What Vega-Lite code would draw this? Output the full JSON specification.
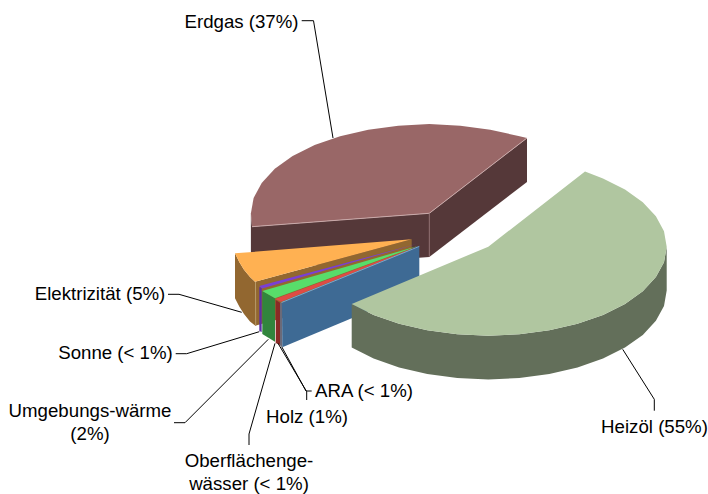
{"$schema":"https://vega.github.io/schema/vega-lite/v6.json","width":708,"height":494,"padding":0,"autosize":"none","background":"white","config":{"view":{"stroke":null}},
"resolve":{"scale":{"color":"independent"}},
"datasets":{
"faces":[
{"p":"Erdgas Seite","i":0,"x":250.9,"y":213.3},{"p":"Erdgas Seite","i":1,"x":252,"y":226.7},{"p":"Erdgas Seite","i":2,"x":252,"y":270},{"p":"Erdgas Seite","i":3,"x":250.9,"y":257},
{"p":"Erdgas Schnitt A","i":0,"x":252,"y":226.7},{"p":"Erdgas Schnitt A","i":1,"x":429.3,"y":213.3},{"p":"Erdgas Schnitt A","i":2,"x":429.3,"y":257},{"p":"Erdgas Schnitt A","i":3,"x":252,"y":270},
{"p":"Erdgas Schnitt B","i":0,"x":429.3,"y":213.3},{"p":"Erdgas Schnitt B","i":1,"x":527,"y":138},{"p":"Erdgas Schnitt B","i":2,"x":527,"y":182},{"p":"Erdgas Schnitt B","i":3,"x":429.3,"y":257},
{"p":"Erdgas","i":0,"x":252,"y":226.7},{"p":"Erdgas","i":1,"x":429.3,"y":213.3},{"p":"Erdgas","i":2,"x":527,"y":138},{"p":"Erdgas","i":3,"x":518.5,"y":136},{"p":"Erdgas","i":4,"x":490.3,"y":129.7},{"p":"Erdgas","i":5,"x":460.3,"y":125.7},{"p":"Erdgas","i":6,"x":429.3,"y":124},{"p":"Erdgas","i":7,"x":398.3,"y":125.7},{"p":"Erdgas","i":8,"x":368.3,"y":129.7},{"p":"Erdgas","i":9,"x":340.1,"y":136.2},{"p":"Erdgas","i":10,"x":314.6,"y":145.1},{"p":"Erdgas","i":11,"x":292.6,"y":156.1},{"p":"Erdgas","i":12,"x":274.8,"y":168.8},{"p":"Erdgas","i":13,"x":261.7,"y":182.9},{"p":"Erdgas","i":14,"x":253.6,"y":197.9},{"p":"Erdgas","i":15,"x":250.9,"y":213.3},
{"p":"Elektrizität Seite","i":0,"x":235,"y":253.3},{"p":"Elektrizität Seite","i":1,"x":239.4,"y":262.3},{"p":"Elektrizität Seite","i":2,"x":244,"y":269.7},{"p":"Elektrizität Seite","i":3,"x":250,"y":276.9},{"p":"Elektrizität Seite","i":4,"x":255,"y":281.7},{"p":"Elektrizität Seite","i":5,"x":255.7,"y":326},{"p":"Elektrizität Seite","i":6,"x":250,"y":321.4},{"p":"Elektrizität Seite","i":7,"x":244,"y":314},{"p":"Elektrizität Seite","i":8,"x":239.4,"y":306.8},{"p":"Elektrizität Seite","i":9,"x":235,"y":298.3},
{"p":"Elektrizität Schnitt","i":0,"x":255,"y":281.7},{"p":"Elektrizität Schnitt","i":1,"x":411.7,"y":239.3},{"p":"Elektrizität Schnitt","i":2,"x":411.7,"y":283},{"p":"Elektrizität Schnitt","i":3,"x":255,"y":325.7},
{"p":"Elektrizität","i":0,"x":235,"y":253.3},{"p":"Elektrizität","i":1,"x":411.7,"y":239.3},{"p":"Elektrizität","i":2,"x":255,"y":281.7},{"p":"Elektrizität","i":3,"x":250,"y":276.9},{"p":"Elektrizität","i":4,"x":244,"y":269.7},{"p":"Elektrizität","i":5,"x":239.4,"y":262.3},
{"p":"Sonne Seite","i":0,"x":259.3,"y":287},{"p":"Sonne Seite","i":1,"x":261.7,"y":288},{"p":"Sonne Seite","i":2,"x":261.7,"y":332},{"p":"Sonne Seite","i":3,"x":259.3,"y":331},
{"p":"Sonne","i":0,"x":259.3,"y":286},{"p":"Sonne","i":1,"x":416.7,"y":244},{"p":"Sonne","i":2,"x":262,"y":288.5},
{"p":"Umgebung Seite","i":0,"x":262.3,"y":291},{"p":"Umgebung Seite","i":1,"x":275,"y":298.3},{"p":"Umgebung Seite","i":2,"x":275,"y":341.7},{"p":"Umgebung Seite","i":3,"x":262.3,"y":334},
{"p":"Umgebung","i":0,"x":262.3,"y":291},{"p":"Umgebung","i":1,"x":418.7,"y":245.7},{"p":"Umgebung","i":2,"x":275,"y":298.3},
{"p":"Holz Seite","i":0,"x":275.7,"y":300},{"p":"Holz Seite","i":1,"x":280,"y":302.7},{"p":"Holz Seite","i":2,"x":280,"y":345},{"p":"Holz Seite","i":3,"x":275.7,"y":343},
{"p":"Holz","i":0,"x":275,"y":299},{"p":"Holz","i":1,"x":419.3,"y":246},{"p":"Holz","i":2,"x":281,"y":301.7},
{"p":"ARA Schnitt","i":0,"x":280,"y":302.7},{"p":"ARA Schnitt","i":1,"x":282,"y":303},{"p":"ARA Schnitt","i":2,"x":282.3,"y":347},{"p":"ARA Schnitt","i":3,"x":280,"y":345.5},
{"p":"Oberfläche Schnitt","i":0,"x":282,"y":302.7},{"p":"Oberfläche Schnitt","i":1,"x":419.3,"y":246.7},{"p":"Oberfläche Schnitt","i":2,"x":419.3,"y":290},{"p":"Oberfläche Schnitt","i":3,"x":282.3,"y":347.3},
{"p":"Heizöl Seite","i":0,"x":351.7,"y":303.9},{"p":"Heizöl Seite","i":1,"x":373.6,"y":314.9},{"p":"Heizöl Seite","i":2,"x":399.1,"y":323.8},{"p":"Heizöl Seite","i":3,"x":427.3,"y":330.3},{"p":"Heizöl Seite","i":4,"x":457.3,"y":334.3},{"p":"Heizöl Seite","i":5,"x":488.3,"y":335.7},{"p":"Heizöl Seite","i":6,"x":519.3,"y":334.3},{"p":"Heizöl Seite","i":7,"x":549.3,"y":330.3},{"p":"Heizöl Seite","i":8,"x":577.5,"y":323.8},{"p":"Heizöl Seite","i":9,"x":603,"y":314.9},{"p":"Heizöl Seite","i":10,"x":625,"y":303.9},{"p":"Heizöl Seite","i":11,"x":642.8,"y":291.2},{"p":"Heizöl Seite","i":12,"x":655.9,"y":277.1},{"p":"Heizöl Seite","i":13,"x":664,"y":262.2},{"p":"Heizöl Seite","i":14,"x":666.7,"y":246.7},{"p":"Heizöl Seite","i":15,"x":666.7,"y":290.4},{"p":"Heizöl Seite","i":16,"x":664,"y":305.9},{"p":"Heizöl Seite","i":17,"x":655.9,"y":320.8},{"p":"Heizöl Seite","i":18,"x":642.8,"y":334.9},{"p":"Heizöl Seite","i":19,"x":625,"y":347.6},{"p":"Heizöl Seite","i":20,"x":603,"y":358.6},{"p":"Heizöl Seite","i":21,"x":577.5,"y":367.5},{"p":"Heizöl Seite","i":22,"x":549.3,"y":374},{"p":"Heizöl Seite","i":23,"x":519.3,"y":378},{"p":"Heizöl Seite","i":24,"x":488.3,"y":379.4},{"p":"Heizöl Seite","i":25,"x":457.3,"y":378},{"p":"Heizöl Seite","i":26,"x":427.3,"y":374},{"p":"Heizöl Seite","i":27,"x":399.1,"y":367.5},{"p":"Heizöl Seite","i":28,"x":373.6,"y":358.6},{"p":"Heizöl Seite","i":29,"x":351.7,"y":347.6},
{"p":"Heizöl","i":0,"x":585,"y":171.5},{"p":"Heizöl","i":1,"x":488.3,"y":246.7},{"p":"Heizöl","i":2,"x":351.7,"y":303.9},{"p":"Heizöl","i":3,"x":373.6,"y":314.9},{"p":"Heizöl","i":4,"x":399.1,"y":323.8},{"p":"Heizöl","i":5,"x":427.3,"y":330.3},{"p":"Heizöl","i":6,"x":457.3,"y":334.3},{"p":"Heizöl","i":7,"x":488.3,"y":335.7},{"p":"Heizöl","i":8,"x":519.3,"y":334.3},{"p":"Heizöl","i":9,"x":549.3,"y":330.3},{"p":"Heizöl","i":10,"x":577.5,"y":323.8},{"p":"Heizöl","i":11,"x":603,"y":314.9},{"p":"Heizöl","i":12,"x":625,"y":303.9},{"p":"Heizöl","i":13,"x":642.8,"y":291.2},{"p":"Heizöl","i":14,"x":655.9,"y":277.1},{"p":"Heizöl","i":15,"x":664,"y":262.2},{"p":"Heizöl","i":16,"x":666.7,"y":246.7},{"p":"Heizöl","i":17,"x":664,"y":231.2},{"p":"Heizöl","i":18,"x":655.9,"y":216.3},{"p":"Heizöl","i":19,"x":642.8,"y":202.2},{"p":"Heizöl","i":20,"x":625,"y":189.5},{"p":"Heizöl","i":21,"x":603,"y":178.5}
],
"leaders":[
{"l":"Kante Erdgas","c":"Erdgas Kante","i":0,"x":252,"y":226.7},{"l":"Kante Erdgas","c":"Erdgas Kante","i":1,"x":429.3,"y":213.3},{"l":"Kante Erdgas","c":"Erdgas Kante","i":2,"x":527,"y":138},
{"l":"Innen Erdgas","c":"Erdgas innen","i":0,"x":429.3,"y":213.3},{"l":"Innen Erdgas","c":"Erdgas innen","i":1,"x":429.3,"y":257},
{"l":"Kante ARA","c":"ARA Kante","i":0,"x":281.5,"y":302.5},{"l":"Kante ARA","c":"ARA Kante","i":1,"x":419.3,"y":246.4},
{"l":"Kante Strom","c":"Strom innen","i":0,"x":255.5,"y":282},{"l":"Kante Strom","c":"Strom innen","i":1,"x":255.7,"y":326},
{"l":"Erdgas","c":"Leiter","i":0,"x":301.7,"y":20.7},{"l":"Erdgas","c":"Leiter","i":1,"x":313.5,"y":20.7},{"l":"Erdgas","c":"Leiter","i":2,"x":333,"y":138},
{"l":"Heizöl","c":"Leiter","i":0,"x":622.7,"y":349.3},{"l":"Heizöl","c":"Leiter","i":1,"x":654.3,"y":399.3},{"l":"Heizöl","c":"Leiter","i":2,"x":654.3,"y":410.7},
{"l":"Elektrizität","c":"Leiter","i":0,"x":168,"y":294.3},{"l":"Elektrizität","c":"Leiter","i":1,"x":179,"y":294.3},{"l":"Elektrizität","c":"Leiter","i":2,"x":241.7,"y":312.3},
{"l":"Sonne","c":"Leiter","i":0,"x":175.7,"y":353.7},{"l":"Sonne","c":"Leiter","i":1,"x":186.7,"y":353.7},{"l":"Sonne","c":"Leiter","i":2,"x":259.3,"y":331.7},
{"l":"Umgebung","c":"Leiter","i":0,"x":174,"y":422.7},{"l":"Umgebung","c":"Leiter","i":1,"x":185,"y":422.7},{"l":"Umgebung","c":"Leiter","i":2,"x":268.3,"y":339.3},
{"l":"Ober","c":"Leiter","i":0,"x":249,"y":445},{"l":"Ober","c":"Leiter","i":1,"x":249,"y":434},{"l":"Ober","c":"Leiter","i":2,"x":275,"y":343.3},
{"l":"Holz","c":"Leiter","i":0,"x":306.7,"y":400},{"l":"Holz","c":"Leiter","i":1,"x":306.7,"y":391.7},{"l":"Holz","c":"Leiter","i":2,"x":278,"y":343.3},
{"l":"ARA","c":"Leiter","i":0,"x":311.7,"y":391},{"l":"ARA","c":"Leiter","i":1,"x":306,"y":391},{"l":"ARA","c":"Leiter","i":2,"x":281.7,"y":346.7}
],
"labels":[
{"t":"Erdgas (37%)","x":241.5,"y":22},{"t":"Heizöl (55%)","x":654.5,"y":427},{"t":"Elektrizität (5%)","x":100,"y":294},{"t":"Sonne (< 1%)","x":115.5,"y":353},{"t":"Umgebungs-wärme","x":90,"y":411},{"t":"(2%)","x":90,"y":434},{"t":"Holz (1%)","x":307,"y":417},{"t":"ARA (< 1%)","x":364,"y":391},{"t":"Oberflächenge-","x":249,"y":461},{"t":"wässer (< 1%)","x":249,"y":484}
]},
"layer":[
{"data":{"name":"faces"},"mark":{"type":"line","filled":true,"strokeWidth":0.5},
"encoding":{"x":{"field":"x","type":"quantitative","scale":{"domain":[0,708]},"axis":null},"y":{"field":"y","type":"quantitative","scale":{"domain":[494,0]},"axis":null},"order":{"field":"i"},
"color":{"field":"p","type":"nominal","legend":null,"scale":{
"domain":["Erdgas Seite","Erdgas Schnitt A","Erdgas Schnitt B","Erdgas","Elektrizität Seite","Elektrizität Schnitt","Elektrizität","Sonne Seite","Sonne","Umgebung Seite","Umgebung","Holz Seite","Holz","ARA Schnitt","Oberfläche Schnitt","Heizöl Seite","Heizöl"],
"range":["#553839","#553839","#553839","#996767","#926730","#926730","#ffb152","#5c2fa5","#7a3ed6","#31853d","#58dd6a","#8a2a26","#e04b45","#6b6a78","#3e6a94","#636f5a","#b0c6a0"]}}}},
{"data":{"name":"leaders"},"mark":{"type":"line","strokeWidth":1},
"encoding":{"x":{"field":"x","type":"quantitative","scale":{"domain":[0,708]},"axis":null},"y":{"field":"y","type":"quantitative","scale":{"domain":[494,0]},"axis":null},"order":{"field":"i"},"detail":{"field":"l"},
"color":{"field":"c","type":"nominal","legend":null,"scale":{"domain":["Leiter","Erdgas Kante","Erdgas innen","ARA Kante","Strom innen"],"range":["#000000","#c9a9a9","#8a6a6a","#6fa8dc","#b89a6a"]}}}},
{"data":{"name":"labels"},"mark":{"type":"text","font":"Liberation Sans","fontSize":18.67,"align":"center","baseline":"middle","color":"#000000"},
"encoding":{"x":{"field":"x","type":"quantitative","scale":{"domain":[0,708]},"axis":null},"y":{"field":"y","type":"quantitative","scale":{"domain":[494,0]},"axis":null},"text":{"field":"t"}}}
]}
